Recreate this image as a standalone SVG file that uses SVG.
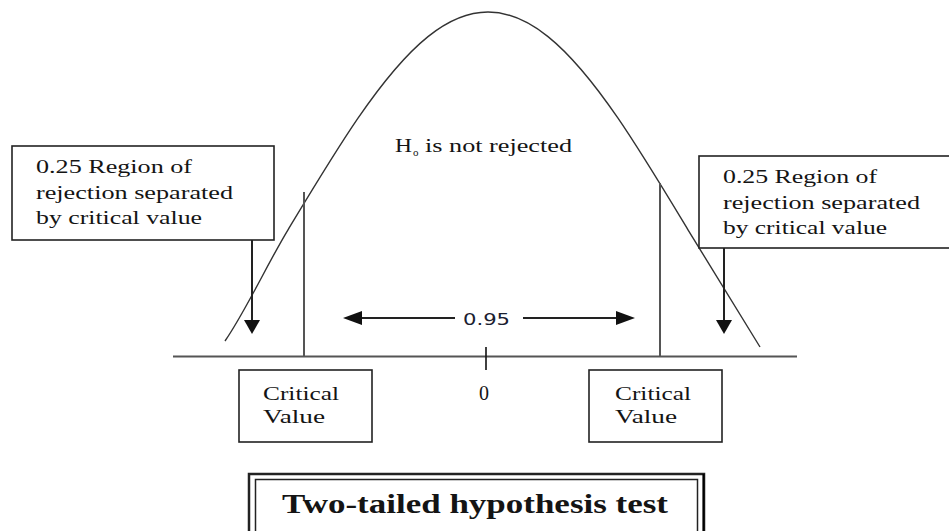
<svg xmlns="http://www.w3.org/2000/svg" width="949" height="531" viewBox="0 0 949 531">
<defs>
<style>
.serif{font-family:"Liberation Serif","Times New Roman",serif;fill:#141414;}
.lbl{font-size:19px;}
.box{fill:#fff;stroke:#222;stroke-width:1.6;}
.ax{stroke:#555;stroke-width:2;fill:none;}
.arr{stroke:#222;stroke-width:2;fill:none;}
.head{fill:#111;}
</style>
</defs>
<rect width="949" height="531" fill="#fff"/>
<g id="curve">
<path d="M225,341 C246,310.5 267,264.5 288,229.8 C311.3,191.3 334.7,152.2 358,118.2 C381.3,84.2 404.7,55.3 428,36.6 C448,20.6 468,12 488,12 C508,12 528,20.6 548,36.6 C571.3,55.3 594.7,84.2 618,118.2 C641.3,152.2 664.7,191.3 688,229.8 C712,269.4 736,308.5 760,347" fill="none" stroke="#333" stroke-width="1.4"/>
</g>
<g id="axis">
<line class="ax" x1="173" y1="356.5" x2="797" y2="356.5"/>
<line x1="486" y1="347" x2="486" y2="370" stroke="#111" stroke-width="1.6"/>
<line class="ax" x1="304" y1="192" x2="304" y2="356"/>
<line class="ax" x1="660" y1="183" x2="660" y2="356"/>
</g>
<g id="connectors">
<line class="arr" x1="252" y1="240" x2="252" y2="321"/>
<polygon class="head" points="244,320 260,320 252,334"/>
<line class="arr" x1="724" y1="248" x2="724" y2="321"/>
<polygon class="head" points="716,320 732,320 724,334"/>
<line class="arr" x1="455" y1="318" x2="358" y2="318"/>
<polygon class="head" points="343,318 362,311 362,325"/>
<line class="arr" x1="523" y1="318" x2="620" y2="318"/>
<polygon class="head" points="635,318 616,311 616,325"/>
</g>
<g id="label-095">
<text x="463" y="325" font-family="'DejaVu Sans',Verdana,sans-serif" font-size="16.5" fill="#1a2030" textLength="47" lengthAdjust="spacingAndGlyphs">0.95</text>
</g>
<g id="label-h0">
<text class="serif lbl" x="395" y="152" textLength="17" lengthAdjust="spacingAndGlyphs">H</text>
<text class="serif" x="413" y="156" font-size="11">o</text>
<text class="serif lbl" x="425" y="152" textLength="147" lengthAdjust="spacingAndGlyphs">is not rejected</text>
</g>
<g id="left-box">
<rect class="box" x="12" y="146" width="262" height="94"/>
<text class="serif lbl" x="36" y="173" textLength="156" lengthAdjust="spacingAndGlyphs">0.25 Region of</text>
<text class="serif lbl" x="36" y="199" textLength="197" lengthAdjust="spacingAndGlyphs">rejection separated</text>
<text class="serif lbl" x="36" y="224" textLength="166" lengthAdjust="spacingAndGlyphs">by critical value</text>
</g>
<g id="right-box">
<rect class="box" x="699" y="156" width="262" height="92"/>
<text class="serif lbl" x="723" y="183" textLength="154" lengthAdjust="spacingAndGlyphs">0.25 Region of</text>
<text class="serif lbl" x="723" y="209" textLength="197" lengthAdjust="spacingAndGlyphs">rejection separated</text>
<text class="serif lbl" x="723" y="234" textLength="164" lengthAdjust="spacingAndGlyphs">by critical value</text>
</g>
<g id="critical-left">
<rect class="box" x="239" y="370" width="133" height="72"/>
<text class="serif lbl" x="263" y="400" textLength="76" lengthAdjust="spacingAndGlyphs">Critical</text>
<text class="serif lbl" x="263" y="423" textLength="62" lengthAdjust="spacingAndGlyphs">Value</text>
</g>
<g id="zero">
<text class="serif" x="484" y="400" font-size="20" text-anchor="middle">0</text>
</g>
<g id="critical-right">
<rect class="box" x="589" y="370" width="133" height="72"/>
<text class="serif lbl" x="615" y="400" textLength="76" lengthAdjust="spacingAndGlyphs">Critical</text>
<text class="serif lbl" x="615" y="423" textLength="62" lengthAdjust="spacingAndGlyphs">Value</text>
</g>
<g id="title">
<rect x="249" y="474" width="455" height="70" fill="#fff" stroke="#222" stroke-width="2.5"/>
<rect x="255.5" y="479.5" width="442" height="60" fill="none" stroke="#222" stroke-width="1.5"/>
<line x1="703.5" y1="474" x2="703.5" y2="531" stroke="#000" stroke-width="2"/>
<text class="serif" x="282" y="513" font-size="27" font-weight="bold" fill="#0a0a14" textLength="386" lengthAdjust="spacingAndGlyphs">Two-tailed hypothesis test</text>
</g>
</svg>
